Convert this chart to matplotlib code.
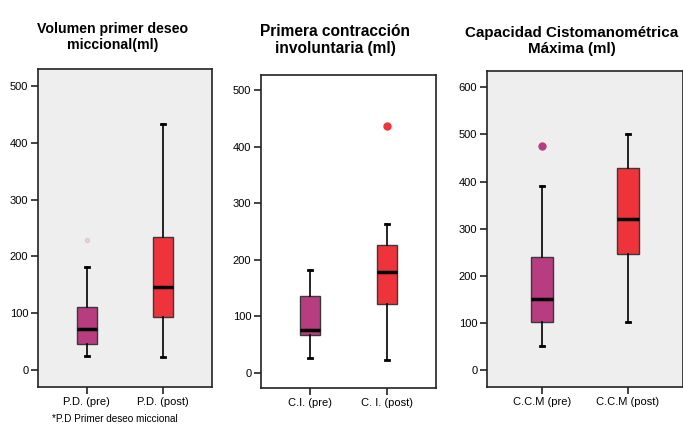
import matplotlib
matplotlib.use("Agg")
import matplotlib.pyplot as plt
from matplotlib import font_manager

names = {f.name for f in font_manager.fontManager.ttflist}
NARROW = "Liberation Sans Narrow" if "Liberation Sans Narrow" in names else "Liberation Sans"

# ---- data ----
titles = ["Volumen primer deseo\nmiccional(ml)",
          "Primera contracción\ninvoluntaria (ml)",
          "Capacidad Cistomanométrica\nMáxima (ml)"]
labels1 = ["P.D. (pre)", "P.D. (post)"]
labels2 = ["C.I. (pre)", "C. I. (post)"]
labels3 = ["C.C.M (pre)", "C.C.M (post)"]
# whislo, q1, median, q3, whishi
pd_pre = [25, 45, 73, 111, 181]
pd_post = [22, 93, 146, 234, 433]
ci_pre = [26, 66, 76, 135, 182]
ci_post = [22, 121, 178, 226, 264]
ccm_pre = [52, 102, 152, 240, 391]
ccm_post = [102, 246, 320, 428, 501]
fliers1 = [[229], []]
fliers2 = [[], [437]]
fliers3 = [[475], []]
yticks1 = [0, 100, 200, 300, 400, 500]
yticks2 = [0, 100, 200, 300, 400, 500]
yticks3 = [0, 100, 200, 300, 400, 500, 600]
ylims = [(-30, 530), (-27, 527), (-35, 634)]

PRE = "#B83C80"
POST = "#EE333A"
EDGE = "#3a3a3a"

fig = plt.figure(figsize=(6.83, 4.25), dpi=100)
positions = [
    [38/683, 38/425, 174/683, 318/425],
    [261/683, 37/425, 175/683, 313/425],
    [487/683, 38/425, 196/683, 316/425],
]
bgs = ["#EEEEEE", "white", "#EEEEEE"]
title_xy = [(113, 37), (335, 40), (572, 41)]
title_fs = [10.2, 11.2, 10.9]

def stats(v, fl, lab):
    return dict(whislo=v[0], q1=v[1], med=v[2], q3=v[3], whishi=v[4], fliers=fl, label=lab)

datasets = [
    ([pd_pre, pd_post], fliers1, labels1, yticks1),
    ([ci_pre, ci_post], fliers2, labels2, yticks2),
    ([ccm_pre, ccm_post], fliers3, labels3, yticks3),
]
flier_alpha = [[0.15, 1], [1, 1], [1, 1]]

for i, (vals, fls, labs, yt) in enumerate(datasets):
    ax = fig.add_axes(positions[i])
    ax.set_facecolor(bgs[i])
    st = [stats(vals[j], fls[j], labs[j]) for j in range(2)]
    arts = ax.bxp(st, positions=[1, 2], widths=0.26, patch_artist=True,
                  capwidths=0.055, showfliers=True,
                  boxprops=dict(edgecolor=EDGE, linewidth=1.0),
                  medianprops=dict(color="black", linewidth=2.5),
                  whiskerprops=dict(color="black", linewidth=1.2),
                  capprops=dict(color="black", linewidth=2.0))
    for j, (b, c) in enumerate(zip(arts["boxes"], [PRE, POST])):
        b.set_facecolor(c)
        f = arts["fliers"][j]
        f.set_marker("o")
        f.set_markersize(5 if i else 3)
        f.set_markerfacecolor(c)
        f.set_markeredgecolor(c)
        f.set_alpha(flier_alpha[i][j])
    ax.set_xlim(0.36, 2.64)
    ax.set_ylim(*ylims[i])
    ax.set_yticks(yt)
    ax.set_xticks([1, 2])
    ax.set_xticklabels(labs)
    for s in ax.spines.values():
        s.set_color("#222222")
        s.set_linewidth(1.2)
    ax.tick_params(axis="both", direction="out", length=5, width=1.2, color="#222222",
                   labelsize=8, pad=2)
    for t in ax.get_xticklabels() + ax.get_yticklabels():
        t.set_fontfamily(NARROW)
    fig.text(title_xy[i][0] / 683, 1 - title_xy[i][1] / 425, titles[i],
             ha="center", va="center", fontsize=title_fs[i], fontweight="bold",
             family=NARROW, linespacing=1.25)

fig.text(115/683, 1 - 419/425, "*P.D Primer deseo miccional", ha="center", va="center",
         fontsize=7.2, family=NARROW)

fig.savefig("out.png", dpi=100)
